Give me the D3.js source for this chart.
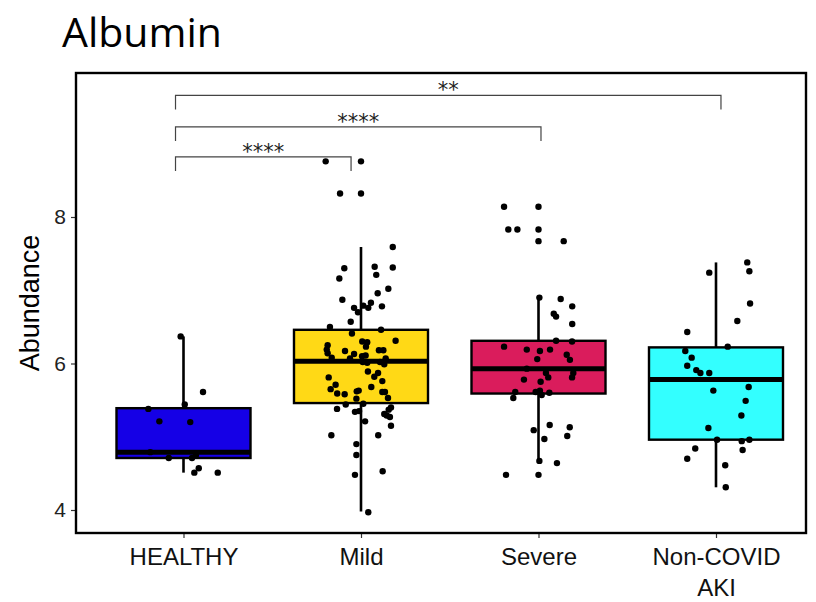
<!DOCTYPE html>
<head>
  <meta charset="utf-8">
  <title>Albumin</title>
  <script src="https://cdn.jsdelivr.net/npm/d3@7"></script>
  <style>
    body { margin: 0; background: #fff; }
    svg { display: block; }
  </style>
</head>
<body>
<svg width="816" height="602"></svg>
<script>
// groups and box stats
var groups = ["HEALTHY", "Mild", "Severe", "Non-COVID\nAKI"]
var fills = ["#1500e6", "#ffd916", "#da1c5c", "#33ffff"]
var q1 = [4.71, 5.46, 5.59, 4.96]
var median = [4.79, 6.03, 5.93, 5.78]
var q3 = [5.39, 6.46, 6.31, 6.22]
var whiskerLow = [4.51, 3.98, 4.67, 4.31]
var whiskerHigh = [6.37, 7.59, 6.90, 7.38]
var yTicks = [4, 6, 8]

// jittered samples: value + horizontal jitter (fraction of category step)
var healthyValues = [6.37,5.61,5.38,5.44,5.21,5.20,4.79,4.71,4.71,4.75,4.57,4.51,4.51]
var healthyJitter = [-0.016,0.11,-0.198,0.007,-0.136,0.038,-0.187,-0.083,0.048,0.07,0.086,0.061,0.193]

var mildValues = [8.76,8.76,8.32,8.32,7.59,7.30,7.32,7.31,7.16,7.21,7.02,6.96,6.87,6.83,6.76,6.79,6.76,6.78,6.70,6.57,
  6.50,6.46,6.41,6.31,6.30,6.29,6.25,6.23,6.19,6.18,6.18,6.17,6.14,6.13,6.10,6.11,6.08,6.07,6.07,6.02,
  6.01,6.02,5.99,5.89,5.87,5.82,5.81,5.76,5.71,5.68,5.65,5.63,5.62,5.59,5.58,5.61,5.61,5.52,5.53,5.44,
  5.45,5.40,5.38,5.37,5.34,5.35,5.31,5.29,5.27,5.21,5.15,5.02,5.02,4.90,4.75,4.48,4.53,3.97]
var mildJitter = [-0.199,0.0,-0.118,0.0,0.179,-0.094,0.077,0.179,-0.122,0.086,0.154,0.094,-0.105,0.056,-0.039,0.013,0.041,0.118,-0.017,-0.058,
  -0.175,0.113,-0.051,0.195,0.007,0.035,-0.188,0.028,-0.193,0.101,0.126,-0.090,-0.188,-0.039,0.006,0.026,-0.165,-0.062,0.139,0.010,
  0.035,0.107,0.131,0.039,0.096,0.075,-0.182,0.120,-0.143,0.058,-0.171,-0.013,-0.024,-0.134,-0.092,0.120,0.135,-0.026,0.152,-0.086,
  0.013,0.169,-0.135,0.156,-0.034,-0.011,0.131,0.145,0.163,0.023,0.169,-0.167,0.097,-0.026,-0.026,-0.034,0.122,0.041]

var severeValues = [8.14,8.14,7.83,7.83,7.83,7.67,7.67,6.90,6.88,6.78,6.68,6.64,6.54,6.31,6.30,6.23,6.19,6.17,6.19,6.12,
  6.05,6.06,5.93,5.87,5.81,5.87,5.81,5.78,5.75,5.61,5.53,5.61,5.63,5.57,5.60,5.16,5.09,5.13,4.97,5.01,
  4.67,4.64,4.48,4.48]
var severeJitter = [-0.194,0.0,-0.170,-0.119,0.0,0.0,0.142,0.005,0.125,0.190,0.086,0.099,0.190,0.099,0.189,-0.194,-0.066,0.008,0.065,0.159,
  0.177,-0.007,-0.066,0.042,0.055,0.196,0.189,-0.082,0.012,-0.131,-0.142,-0.016,0.008,0.018,0.061,0.063,-0.027,0.176,0.033,0.162,
  0.005,0.104,-0.183,0.0]

var akiValues = [7.38,7.26,7.24,6.82,6.58,6.43,6.23,6.17,6.08,5.97,5.91,5.87,5.87,5.68,5.63,5.49,5.29,5.12,4.96,4.94,
  4.96,4.84,4.82,4.70,4.61,4.31]
var akiJitter = [0.176,0.188,-0.038,0.192,0.120,-0.162,0.066,-0.173,-0.137,-0.162,-0.111,-0.088,-0.038,0.184,-0.015,0.167,0.143,-0.043,0.006,0.145,
  0.188,-0.117,0.150,-0.162,0.052,0.055]

var sampleValues = [healthyValues, mildValues, severeValues, akiValues]
var sampleJitter = [healthyJitter, mildJitter, severeJitter, akiJitter]

// significance brackets
var bracketTo = [1, 2, 3]
var bracketLabels = ["****", "****", "**"]
var bracketLevels = [8.82, 9.23, 9.66]
var bracketEndNudge = [-0.056, 0.014, 0.028]

var svg = d3.select('svg')
var panel = { left: 76, top: 73, right: 806, bottom: 533 }

var x = d3.scalePoint().domain(groups).range([183.5, 716])
var y = d3.scaleLinear().domain([4, 8]).range([510, 217])
var step = x.step()
var boxW = step * 0.755

svg.append('rect').attr('width', 816).attr('height', 602).attr('fill', '#fff')

// title
svg.append('text')
  .attr('x', 62).attr('y', 47)
  .attr('font-family', 'Open Sans, Noto Sans, sans-serif')
  .attr('font-size', 41)
  .attr('fill', '#000')
  .text('Albumin')

// y axis
var yAxis = svg.append('g')
  .attr('transform', 'translate(' + panel.left + ',0)')
  .call(d3.axisLeft(y).tickValues(yTicks).tickSize(5).tickPadding(5).tickFormat(d3.format('d')))
yAxis.select('.domain').remove()
yAxis.selectAll('line').attr('stroke', '#333').attr('stroke-width', 1.2)
yAxis.selectAll('text').attr('font-family', 'Liberation Sans, Arial, sans-serif').attr('font-size', 21).attr('fill', '#222')

svg.append('text')
  .attr('transform', 'translate(30,' + ((panel.top + panel.bottom) / 2) + ') rotate(-90)')
  .attr('text-anchor', 'middle')
  .attr('dy', '0.35em')
  .attr('font-family', 'Liberation Sans, Arial, sans-serif')
  .attr('font-size', 27)
  .text('Abundance')

// x axis
var xAxis = svg.append('g')
  .attr('transform', 'translate(0,' + panel.bottom + ')')
  .call(d3.axisBottom(x).tickSize(5).tickPadding(10))
xAxis.select('.domain').remove()
xAxis.selectAll('line').attr('stroke', '#333').attr('stroke-width', 1.2)
xAxis.selectAll('text')
  .attr('font-family', 'Liberation Sans, Arial, sans-serif')
  .attr('font-size', 24)
  .attr('fill', '#111')
  .each(function (d) {
    var t = d3.select(this).text('')
    d.split('\n').forEach(function (line, i) {
      t.append('tspan').attr('x', 0).attr('dy', i ? '1.28em' : '0.71em').text(line)
    })
  })

// boxes
var box = svg.append('g').selectAll('g').data(groups).enter().append('g')

box.append('line')
  .attr('x1', function (d) { return x(d) }).attr('x2', function (d) { return x(d) })
  .attr('y1', function (d, i) { return y(whiskerHigh[i]) })
  .attr('y2', function (d, i) { return y(whiskerLow[i]) })
  .attr('stroke', '#000').attr('stroke-width', 2.6)

box.append('rect')
  .attr('x', function (d) { return x(d) - boxW / 2 })
  .attr('width', boxW)
  .attr('y', function (d, i) { return y(q3[i]) })
  .attr('height', function (d, i) { return y(q1[i]) - y(q3[i]) })
  .attr('fill', function (d, i) { return fills[i] })
  .attr('stroke', '#000').attr('stroke-width', 2.4)

box.append('line')
  .attr('x1', function (d) { return x(d) - boxW / 2 }).attr('x2', function (d) { return x(d) + boxW / 2 })
  .attr('y1', function (d, i) { return y(median[i]) })
  .attr('y2', function (d, i) { return y(median[i]) })
  .attr('stroke', '#000').attr('stroke-width', 5)

// jittered points
var pts = []
groups.forEach(function (g, i) {
  sampleValues[i].forEach(function (v, j) { pts.push({ g: g, v: v, j: sampleJitter[i][j] }) })
})
svg.append('g').selectAll('circle').data(pts).enter().append('circle')
  .attr('cx', function (d) { return x(d.g) + d.j * step })
  .attr('cy', function (d) { return y(d.v) })
  .attr('r', 3.2)
  .attr('fill', '#000')

// brackets
var tickLen = 14
var br = svg.append('g').selectAll('g').data(bracketTo).enter().append('g')
br.append('path')
  .attr('d', function (to, i) {
    var x0 = x(groups[0]) - 0.045 * step
    var x1 = x(groups[to]) + bracketEndNudge[i] * step
    var yb = y(bracketLevels[i])
    return 'M' + x0 + ',' + (yb + tickLen) + 'V' + yb + 'H' + x1 + 'V' + (yb + tickLen)
  })
  .attr('fill', 'none').attr('stroke', '#444').attr('stroke-width', 1.2)
br.append('text')
  .attr('x', function (to, i) {
    return (x(groups[0]) - 0.045 * step + x(groups[to]) + bracketEndNudge[i] * step) / 2
  })
  .attr('y', function (to, i) { return y(bracketLevels[i]) + 2 })
  .attr('text-anchor', 'middle')
  .attr('font-family', 'DejaVu Sans, sans-serif')
  .attr('font-size', 21)
  .attr('fill', '#222')
  .text(function (to, i) { return bracketLabels[i] })

// panel border
svg.append('rect')
  .attr('x', panel.left).attr('y', panel.top)
  .attr('width', panel.right - panel.left).attr('height', panel.bottom - panel.top)
  .attr('fill', 'none').attr('stroke', '#000').attr('stroke-width', 2.4)
</script>
</body>
